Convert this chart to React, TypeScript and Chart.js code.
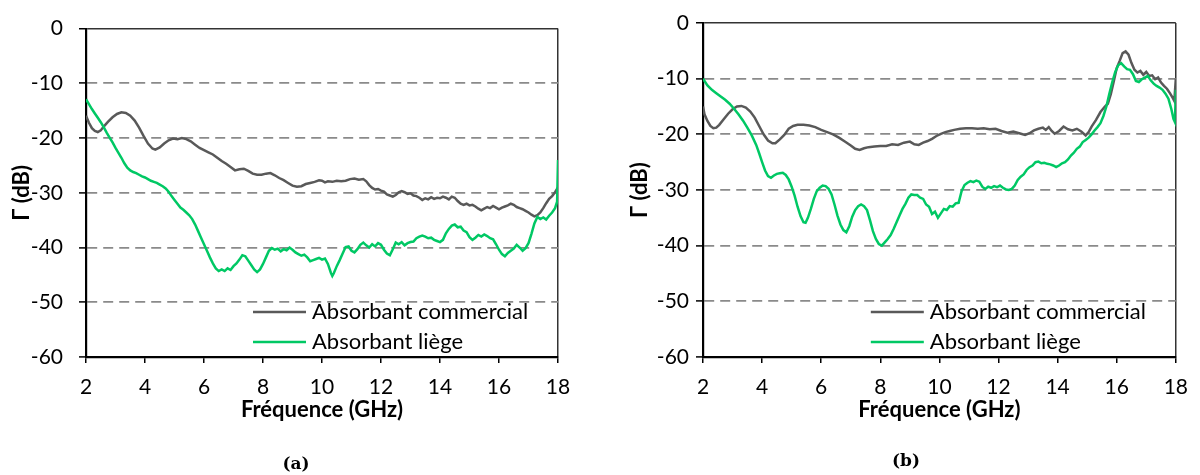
import React, { useEffect, useRef } from "react";
import { Chart, registerables } from "chart.js";

Chart.register(...registerables);

// ---------- Text ----------
const seriesLabels = ["Absorbant commercial", "Absorbant liège"];
const xTitle = "Fréquence (GHz)";
const yTitle = "Γ (dB)";
const captions = ["(a)", "(b)"];

// ---------- Axis ranges ----------
const xRange = [2, 18];
const xStep = 2;
const yRange = [-60, 0];
const yStep = 10;

// ---------- Panel (a) : commercial ----------
const freqComA = [
  2.0, 2.1, 2.2, 2.3, 2.4, 2.5, 2.6, 2.75, 2.9, 3.05, 3.2, 3.35, 3.5, 3.65, 3.8, 3.95, 4.1, 4.25, 4.35, 4.5,
  4.65, 4.8, 4.95, 5.1, 5.25, 5.4, 5.55, 5.7, 5.85, 6.0, 6.15, 6.3, 6.45, 6.6, 6.75, 6.9, 7.05, 7.2, 7.35, 7.5,
  7.65, 7.8, 7.95, 8.1, 8.25, 8.4, 8.55, 8.7, 8.85, 9.0, 9.15, 9.3, 9.45, 9.6, 9.75, 9.9, 10.0, 10.1, 10.2, 10.35,
  10.5, 10.65, 10.8, 10.95, 11.1, 11.25, 11.4, 11.5, 11.6, 11.7, 11.8, 11.9, 12.0, 12.1, 12.2, 12.3, 12.4, 12.5, 12.6, 12.7,
  12.8, 12.9, 13.0, 13.1, 13.2, 13.3, 13.4, 13.5, 13.6, 13.7, 13.8, 13.9, 14.0, 14.1, 14.2, 14.3, 14.4, 14.5, 14.6, 14.7,
  14.8, 14.9, 15.0, 15.1, 15.2, 15.3, 15.4, 15.5, 15.6, 15.7, 15.8, 15.9, 16.0, 16.1, 16.2, 16.3, 16.4, 16.5, 16.6, 16.7,
  16.8, 16.9, 17.0, 17.1, 17.2, 17.3, 17.4, 17.5, 17.6, 17.7, 17.8, 17.9, 18.0,
];
const gammaComA = [
  -15.9, -17.2, -18.2, -18.7, -18.9, -18.6, -17.9, -17.0, -16.2, -15.6, -15.3, -15.4, -15.9, -16.8, -18.1, -19.6, -21.0, -21.9, -22.1, -21.7,
  -21.0, -20.4, -20.1, -20.2, -20.0, -20.2, -20.6, -21.2, -21.8, -22.2, -22.6, -23.0, -23.6, -24.2, -24.7, -25.3, -25.9, -25.7, -25.6, -26.0,
  -26.5, -26.7, -26.7, -26.5, -26.4, -26.8, -27.3, -27.7, -28.2, -28.7, -28.9, -28.8, -28.4, -28.2, -28.0, -27.7, -27.8, -28.1, -27.9, -28.0,
  -27.8, -27.9, -27.8, -27.5, -27.4, -27.6, -27.5, -27.9, -28.6, -29.1, -29.4, -29.3, -29.6, -29.8, -30.3, -30.5, -30.7, -30.4, -29.9, -29.7,
  -29.9, -30.2, -30.1, -30.5, -30.6, -30.9, -31.3, -31.0, -31.2, -30.8, -31.1, -30.9, -31.0, -30.7, -30.9, -31.2, -30.7, -30.9, -31.5, -32.0,
  -32.2, -32.0, -32.3, -32.2, -32.5, -32.9, -33.2, -32.9, -32.6, -32.8, -32.4, -32.7, -33.0, -32.7, -32.5, -32.3, -32.0, -32.2, -32.6, -32.8,
  -33.0, -33.3, -33.6, -34.0, -34.3, -34.1, -33.6, -32.8, -31.9, -31.1, -30.6, -29.9, -29.0,
];

// ---------- Panel (a) : liège ----------
const freqLiegeA = [
  2.0, 2.1, 2.2, 2.3, 2.4, 2.5, 2.6, 2.7, 2.8, 2.9, 3.0, 3.1, 3.2, 3.3, 3.4, 3.5, 3.6, 3.7, 3.8, 3.9,
  4.0, 4.1, 4.2, 4.3, 4.4, 4.5, 4.6, 4.7, 4.8, 4.9, 5.0, 5.1, 5.2, 5.3, 5.4, 5.5, 5.6, 5.7, 5.8, 5.9,
  6.0, 6.1, 6.2, 6.3, 6.4, 6.5, 6.6, 6.7, 6.8, 6.9, 7.0, 7.1, 7.2, 7.3, 7.4, 7.5, 7.6, 7.7, 7.8, 7.9,
  8.0, 8.1, 8.2, 8.3, 8.4, 8.5, 8.6, 8.7, 8.8, 8.9, 9.0, 9.1, 9.2, 9.3, 9.4, 9.5, 9.6, 9.7, 9.8, 9.9,
  10.0, 10.1, 10.2, 10.3, 10.35, 10.4, 10.5, 10.6, 10.7, 10.8, 10.9, 11.0, 11.1, 11.2, 11.3, 11.4, 11.5, 11.6, 11.7, 11.8,
  11.9, 12.0, 12.1, 12.2, 12.3, 12.4, 12.5, 12.6, 12.7, 12.8, 12.9, 13.0, 13.1, 13.2, 13.3, 13.4, 13.5, 13.6, 13.7, 13.8,
  13.9, 14.0, 14.1, 14.2, 14.3, 14.4, 14.5, 14.6, 14.7, 14.8, 14.9, 15.0, 15.1, 15.2, 15.3, 15.4, 15.5, 15.6, 15.7, 15.8,
  15.9, 16.0, 16.1, 16.2, 16.3, 16.4, 16.5, 16.6, 16.7, 16.8, 16.9, 17.0, 17.1, 17.2, 17.3, 17.4, 17.5, 17.6, 17.7, 17.8,
  17.9, 17.97, 18.0,
];
const gammaLiegeA = [
  -12.9, -13.8, -14.7, -15.5, -16.3, -17.1, -18.0, -19.0, -19.9, -20.8, -21.8, -22.7, -23.6, -24.6, -25.4, -25.9, -26.2, -26.4, -26.7, -27.0,
  -27.2, -27.5, -27.8, -28.0, -28.2, -28.5, -28.8, -29.2, -29.8, -30.6, -31.3, -32.0, -32.7, -33.1, -33.6, -34.1, -34.8, -35.8, -37.0, -38.2,
  -39.4, -40.6, -41.8, -42.9, -43.8, -44.3, -44.0, -44.3, -43.8, -44.1, -43.4, -42.9, -42.2, -41.4, -41.6, -42.4, -43.2, -44.0, -44.5, -44.0,
  -43.0, -41.8, -40.6, -40.1, -40.4, -40.2, -40.7, -40.3, -40.5, -40.0, -40.4, -40.9, -41.2, -41.5, -41.3, -41.8, -42.5, -42.3, -42.1, -41.9,
  -42.2, -42.0, -43.0, -44.6, -45.2, -44.7, -43.4, -42.3, -41.1, -39.9, -39.8, -40.6, -40.9, -40.3, -39.5, -39.1, -39.6, -40.0, -39.4, -39.8,
  -39.2, -39.5, -40.4, -41.1, -41.4, -40.3, -39.1, -39.4, -39.0, -39.6, -39.2, -39.0, -38.9, -38.3, -38.0, -37.8, -38.0, -38.3, -38.2, -38.6,
  -38.8, -39.0, -38.6, -37.4, -36.6, -36.0, -35.8, -36.3, -36.2, -36.9, -37.2, -38.1, -38.6, -38.2, -37.7, -38.0, -37.6, -37.9, -38.3, -38.5,
  -39.4, -40.4, -41.2, -41.6, -41.0, -40.6, -40.2, -39.5, -40.0, -40.6, -40.1, -39.2, -37.5, -35.6, -34.4, -34.8, -34.5, -34.9, -34.2, -33.6,
  -32.8, -31.6, -24.0,
];

// ---------- Panel (b) : commercial ----------
const freqComB = [
  2.0, 2.05, 2.15, 2.25, 2.35, 2.45, 2.55, 2.7, 2.85, 3.0, 3.15, 3.3, 3.45, 3.6, 3.75, 3.9, 4.05, 4.2, 4.35, 4.45,
  4.6, 4.75, 4.9, 5.05, 5.2, 5.4, 5.6, 5.8, 6.0, 6.2, 6.4, 6.6, 6.8, 7.0, 7.15, 7.3, 7.45, 7.6, 7.8, 8.0,
  8.2, 8.4, 8.6, 8.8, 9.0, 9.15, 9.3, 9.45, 9.6, 9.75, 9.9, 10.05, 10.2, 10.35, 10.5, 10.7, 10.9, 11.1, 11.3, 11.5,
  11.7, 11.9, 12.1, 12.3, 12.5, 12.7, 12.9, 13.05, 13.2, 13.35, 13.5, 13.6, 13.7, 13.8, 13.9, 14.05, 14.2, 14.35, 14.5, 14.65,
  14.8, 14.95, 15.05, 15.15, 15.3, 15.45, 15.6, 15.7, 15.8, 15.9, 16.0, 16.1, 16.2, 16.3, 16.4, 16.5, 16.6, 16.7, 16.8, 16.9,
  17.0, 17.1, 17.2, 17.3, 17.4, 17.5, 17.6, 17.7, 17.8, 17.9, 17.95, 18.0,
];
const gammaComB = [
  -15.0, -16.4, -17.6, -18.5, -18.9, -18.8, -18.3, -17.3, -16.3, -15.5, -15.0, -14.9, -15.2, -15.9, -17.0, -18.5, -20.0, -21.1, -21.6, -21.6,
  -20.9, -20.1, -19.0, -18.5, -18.3, -18.3, -18.4, -18.7, -19.2, -19.6, -20.0, -20.6, -21.3, -22.0, -22.6, -22.8, -22.5, -22.3, -22.2, -22.1,
  -22.1, -21.8, -21.9, -21.5, -21.3, -21.8, -21.9, -21.5, -21.2, -20.8, -20.3, -19.9, -19.6, -19.4, -19.2, -19.0, -18.9, -18.9, -19.0, -18.9,
  -19.1, -19.0, -19.4, -19.7, -19.5, -19.8, -20.1, -19.8, -19.3, -19.0, -18.8, -19.2, -18.7, -19.4, -19.9, -19.4, -18.6, -19.1, -19.3, -19.0,
  -19.5, -20.2, -19.6, -18.6, -17.4, -16.0, -15.0, -14.5, -12.8, -10.5, -8.1, -6.8, -5.4, -5.1, -5.7, -7.2, -8.4, -8.9, -8.6, -9.3,
  -8.8, -9.5, -9.4, -10.1, -9.8, -10.7, -11.3, -11.8, -12.6, -13.5, -14.0, -10.0,
];

// ---------- Panel (b) : liège ----------
const freqLiegeB = [
  2.0, 2.15, 2.3, 2.45, 2.6, 2.75, 2.9, 3.05, 3.2, 3.35, 3.5, 3.65, 3.8, 3.9, 4.0, 4.1, 4.2, 4.3, 4.4, 4.5,
  4.6, 4.7, 4.8, 4.9, 5.0, 5.1, 5.2, 5.3, 5.4, 5.47, 5.55, 5.65, 5.75, 5.85, 5.95, 6.05, 6.15, 6.25, 6.35, 6.45,
  6.55, 6.65, 6.75, 6.85, 6.95, 7.05, 7.15, 7.25, 7.35, 7.45, 7.55, 7.65, 7.75, 7.85, 7.95, 8.05, 8.15, 8.25, 8.35, 8.45,
  8.55, 8.65, 8.75, 8.85, 8.95, 9.05, 9.15, 9.25, 9.35, 9.45, 9.55, 9.65, 9.75, 9.85, 9.95, 10.05, 10.15, 10.25, 10.35, 10.45,
  10.55, 10.65, 10.75, 10.85, 10.95, 11.05, 11.15, 11.25, 11.35, 11.45, 11.55, 11.65, 11.75, 11.85, 11.95, 12.05, 12.15, 12.25, 12.35, 12.45,
  12.55, 12.65, 12.75, 12.85, 12.95, 13.05, 13.15, 13.25, 13.35, 13.45, 13.55, 13.65, 13.75, 13.85, 13.95, 14.05, 14.15, 14.25, 14.35, 14.45,
  14.55, 14.65, 14.75, 14.85, 14.95, 15.05, 15.15, 15.25, 15.35, 15.45, 15.55, 15.65, 15.75, 15.85, 15.95, 16.05, 16.15, 16.25, 16.35, 16.45,
  16.55, 16.65, 16.75, 16.85, 16.95, 17.05, 17.15, 17.25, 17.35, 17.45, 17.55, 17.65, 17.75, 17.85, 17.92, 17.97, 18.0,
];
const gammaLiegeB = [
  -10.0, -11.2, -12.0, -12.6, -13.2, -13.8, -14.5, -15.4, -16.4, -17.5, -18.8, -20.2, -21.9, -23.4, -25.0, -26.5, -27.5, -27.8, -27.4, -27.1,
  -27.0, -26.9, -27.3, -28.1, -29.4, -31.0, -33.0, -34.7, -35.8, -35.9, -35.0, -33.4, -31.6, -30.2, -29.6, -29.2, -29.3, -29.8, -30.8, -32.6,
  -34.6, -36.2, -37.2, -37.6, -36.5, -34.8, -33.6, -32.9, -32.6, -32.9, -33.6, -35.4, -37.4, -38.8, -39.7, -40.0, -39.4, -38.8, -38.1, -37.0,
  -35.8, -34.6, -33.4, -32.5, -31.4, -30.8, -30.9, -30.9, -31.4, -31.6, -32.6, -33.0, -34.3, -33.9, -35.0, -34.2, -33.4, -33.6, -32.9, -33.0,
  -32.4, -32.3, -30.2, -29.1, -28.7, -28.4, -28.6, -28.3, -28.5, -29.4, -29.8, -29.4, -29.6, -29.3, -29.5, -29.2, -29.6, -29.9, -30.0, -29.8,
  -29.2, -28.2, -27.6, -27.2, -26.4, -25.9, -25.6, -25.0, -24.9, -25.2, -25.1, -25.3, -25.4, -25.6, -25.9, -25.6, -25.2, -25.0, -24.5, -23.8,
  -23.3, -22.6, -22.2, -21.4, -21.0, -20.6, -20.0, -19.3, -18.7, -18.0, -16.7, -15.0, -12.7, -10.6, -8.8, -7.6, -7.2, -7.8, -8.3, -8.4,
  -9.2, -10.4, -10.6, -10.1, -9.8, -9.5, -10.3, -10.9, -11.3, -11.6, -12.0, -12.7, -13.6, -15.5, -17.2, -17.8, -12.0,
];

const seriesColors = ["#595959", "#00C864"];

const FONT = "Lato, 'Open Sans', sans-serif";

function toPoints(xs: number[], ys: number[]) {
  return xs.map((x, i) => ({ x, y: ys[i] }));
}

const insideLegend = {
  id: "insideLegend",
  afterDraw(chart: any) {
    const { ctx, chartArea } = chart;
    ctx.save();
    chart.data.datasets.forEach((ds: any, i: number) => {
      const y = chartArea.bottom - 45 + i * 30;
      ctx.strokeStyle = ds.borderColor;
      ctx.lineWidth = 2.5;
      ctx.setLineDash([]);
      ctx.beginPath();
      ctx.moveTo(chartArea.right - 305, y);
      ctx.lineTo(chartArea.right - 252, y);
      ctx.stroke();
      ctx.fillStyle = "#000";
      ctx.font = `22px ${FONT}`;
      ctx.textBaseline = "middle";
      ctx.textAlign = "left";
      ctx.fillText(ds.label, chartArea.right - 246, y);
    });
    ctx.restore();
  },
};

type PanelProps = {
  left: number;
  yAxisWidth: number;
  rightPad: number;
  yTickPad: number;
  yTitlePad: number;
  com: [number[], number[]];
  liege: [number[], number[]];
};

function Panel({ left, yAxisWidth, rightPad, yTickPad, yTitlePad, com, liege }: PanelProps) {
  const ref = useRef<HTMLCanvasElement>(null);
  useEffect(() => {
    const chart = new Chart(ref.current as HTMLCanvasElement, {
      type: "line",
      data: {
        datasets: [
          {
            label: seriesLabels[0],
            data: toPoints(com[0], com[1]),
            borderColor: seriesColors[0],
            backgroundColor: seriesColors[0],
            borderWidth: 2.5,
            pointRadius: 0,
            tension: 0,
            order: 1,
          },
          {
            label: seriesLabels[1],
            data: toPoints(liege[0], liege[1]),
            borderColor: seriesColors[1],
            backgroundColor: seriesColors[1],
            borderWidth: 2.5,
            pointRadius: 0,
            tension: 0,
            order: 0,
          },
        ],
      },
      options: {
        animation: false,
        responsive: false,
        devicePixelRatio: 1,
        layout: { padding: { left: 0, top: 23, right: rightPad, bottom: 45 } },
        plugins: { legend: { display: false }, tooltip: { enabled: false } },
        scales: {
          x: {
            type: "linear",
            min: xRange[0],
            max: xRange[1],
            afterFit: (s: any) => {
              s.height = 73;
            },
            ticks: {
              stepSize: xStep,
              autoSkip: false,
              maxRotation: 0,
              padding: 12,
              color: "#000",
              font: { family: FONT, size: 21 },
            },
            grid: {
              color: (c: any) => (c.tick && c.tick.value === xRange[1] ? "#333" : "rgba(0,0,0,0)"),
              lineWidth: 1.5,
              tickLength: 6,
              tickColor: "#000",
              tickWidth: 1.5,
              tickBorderDash: [],
            },
            border: { display: true, color: "#000", width: 2.2 },
            title: {
              display: true,
              text: xTitle,
              color: "#000",
              font: { family: FONT, size: 22, weight: "bold" },
              padding: { top: 0, bottom: 7 },
            },
          },
          y: {
            type: "linear",
            min: yRange[0],
            max: yRange[1],
            afterFit: (s: any) => {
              s.width = yAxisWidth;
            },
            ticks: {
              stepSize: yStep,
              padding: yTickPad,
              color: "#000",
              font: { family: FONT, size: 21 },
            },
            grid: {
              color: (c: any) =>
                c.tick && c.tick.value === yRange[1]
                  ? "#333"
                  : c.tick && c.tick.value === yRange[0]
                  ? "rgba(0,0,0,0)"
                  : "#8a8a8a",
              lineWidth: (c: any) => (c.tick && c.tick.value === yRange[1] ? 1.5 : 1.8),
              tickLength: 7,
              tickColor: "#000",
              tickWidth: 1.5,
              tickBorderDash: [],
            },
            border: {
              display: true,
              color: "#000",
              width: 2.2,
              dash: (c: any) => (c.tick && c.tick.value === yRange[1] ? [] : [10, 6]),
            },
            title: {
              display: true,
              text: yTitle,
              color: "#000",
              font: { family: FONT, size: 22, weight: "bold" },
              padding: { top: yTitlePad, bottom: 0 },
            },
          },
        },
      },
      plugins: [insideLegend],
    } as any);
    return () => chart.destroy();
  }, []);
  return (
    <canvas
      ref={ref}
      width={600}
      height={475}
      style={{ position: "absolute", left, top: 0, width: 600, height: 475 }}
    />
  );
}

const captionStyle = (x: number, y: number): React.CSSProperties => ({
  position: "absolute",
  left: x,
  top: y,
  transform: "translate(-50%, -50%)",
  fontFamily: "'DejaVu Serif', 'Liberation Serif', serif",
  fontWeight: "bold",
  fontSize: 17,
  color: "#000",
  whiteSpace: "nowrap",
});

export default function App() {
  return (
    <div
      style={{
        position: "fixed",
        left: 0,
        top: 0,
        width: 1200,
        height: 475,
        background: "#fff",
        overflow: "hidden",
      }}
    >
      <Panel
        left={0}
        yAxisWidth={86}
        rightPad={42}
        yTickPad={16}
        yTitlePad={9}
        com={[freqComA, gammaComA]}
        liege={[freqLiegeA, gammaLiegeA]}
      />
      <Panel
        left={600}
        yAxisWidth={103}
        rightPad={20}
        yTickPad={7}
        yTitlePad={27}
        com={[freqComB, gammaComB]}
        liege={[freqLiegeB, gammaLiegeB]}
      />
      <div style={captionStyle(296, 463)}>{captions[0]}</div>
      <div style={captionStyle(906, 460)}>{captions[1]}</div>
    </div>
  );
}
